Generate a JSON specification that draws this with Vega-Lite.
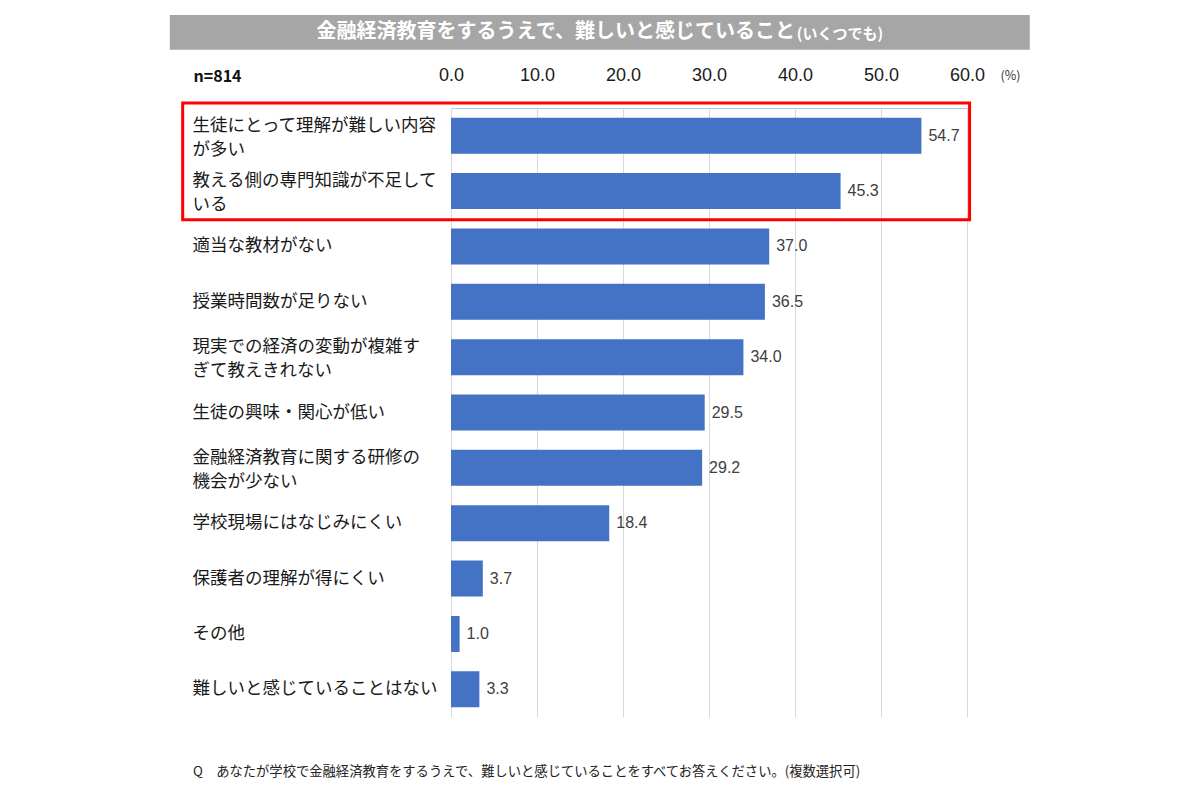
{
  "$schema": "https://vega.github.io/schema/vega-lite/v6.json",
  "autosize": "none",
  "width": 516,
  "height": 609,
  "padding": {"left": 451, "top": 108, "right": 233, "bottom": 83},
  "background": "white",
  "config": {"view": {"stroke": null}, "font": "Noto Sans CJK JP"},
  "title": {
    "text": "Q　あなたが学校で金融経済教育をするうえで、難しいと感じていることをすべてお答えください。(複数選択可)",
    "orient": "bottom",
    "anchor": "start",
    "frame": "group",
    "dx": -258,
    "offset": 48,
    "fontSize": 13.3,
    "fontWeight": "normal",
    "color": "#222222",
    "font": "Noto Sans CJK JP"
  },
  "datasets": {
    "main": [
      {"item": "生徒にとって理解が難しい内容\nが多い", "value": 54.7},
      {"item": "教える側の専門知識が不足して\nいる", "value": 45.3},
      {"item": "適当な教材がない", "value": 37.0},
      {"item": "授業時間数が足りない", "value": 36.5},
      {"item": "現実での経済の変動が複雑す\nぎて教えきれない", "value": 34.0},
      {"item": "生徒の興味・関心が低い", "value": 29.5},
      {"item": "金融経済教育に関する研修の\n機会が少ない", "value": 29.2},
      {"item": "学校現場にはなじみにくい", "value": 18.4},
      {"item": "保護者の理解が得にくい", "value": 3.7},
      {"item": "その他", "value": 1.0},
      {"item": "難しいと感じていることはない", "value": 3.3}
    ],
    "header": [
      {"title": "金融経済教育をするうえで、難しいと感じていること", "note": "(いくつでも)"}
    ]
  },
  "layer": [
    {
      "data": {"name": "main"},
      "encoding": {
        "y": {
          "field": "item",
          "type": "nominal",
          "sort": null,
          "scale": {"paddingInner": 0.35, "paddingOuter": 0.175},
          "axis": {
            "orient": "left",
            "title": "n=814",
            "titleAngle": 0,
            "titleX": -258,
            "titleY": -32,
            "titleAlign": "left",
            "titleBaseline": "middle",
            "titleFontSize": 16,
            "titleFontWeight": "bold",
            "titleColor": "#111111",
            "titleFont": "Noto Sans CJK JP",
            "labelAlign": "left",
            "labelBaseline": "middle",
            "labelPadding": 259,
            "labelLimit": 0,
            "labelFontSize": 17.5,
            "labelLineHeight": 24,
            "labelColor": "#1a1a1a",
            "labelFont": "Noto Sans CJK JP",
            "labelExpr": "split(datum.label, '\\n')",
            "labelOffset": {"condition": {"test": "indexof(datum.value, '\\n') >= 0", "value": -10}, "value": 0},
            "ticks": false,
            "tickSize": 0,
            "domain": false,
            "grid": false
          }
        },
        "x": {
          "field": "value",
          "type": "quantitative",
          "scale": {"domain": [0, 60], "nice": false, "zero": true},
          "axis": {
            "orient": "top",
            "values": [0, 10, 20, 30, 40, 50, 60],
            "format": ".1f",
            "title": "(%)",
            "titleX": 559,
            "titleY": -33,
            "titleAlign": "center",
            "titleBaseline": "middle",
            "titleFontSize": 12.5,
            "titleFontWeight": "normal",
            "titleColor": "#333333",
            "titleFont": "Noto Sans CJK JP",
            "labelFontSize": 18,
            "labelColor": "#1a1a1a",
            "labelFont": "Liberation Sans",
            "labelPadding": 24,
            "labelFlush": false,
            "labelOverlap": false,
            "ticks": false,
            "tickSize": 0,
            "domain": true,
            "domainColor": "#b4c7e7",
            "grid": true,
            "gridColor": "#d9d9d9",
            "gridWidth": 1
          }
        }
      },
      "layer": [
        {"mark": {"type": "bar", "color": "#4472c4"}},
        {
          "mark": {"type": "text", "align": "left", "baseline": "middle", "dx": 7, "fontSize": 16, "color": "#404040", "font": "Liberation Sans"},
          "encoding": {"text": {"field": "value", "type": "quantitative", "format": ".1f"}}
        }
      ]
    },
    {
      "data": {"name": "header"},
      "layer": [
        {
          "mark": {"type": "rect", "color": "#a6a6a6"},
          "encoding": {
            "x": {"datum": -32.7, "type": "quantitative", "scale": {"domain": [0, 60], "nice": false}},
            "x2": {"datum": 67.3},
            "y": {"datum": -1.68, "type": "quantitative", "scale": {"domain": [0, 11], "reverse": true, "nice": false, "zero": false}, "axis": null},
            "y2": {"datum": -1.05}
          }
        },
        {
          "mark": {"type": "text", "align": "right", "baseline": "middle", "fontSize": 20, "fontWeight": "bold", "color": "white", "font": "Noto Sans CJK JP"},
          "encoding": {
            "x": {"datum": 40.0, "type": "quantitative", "scale": {"domain": [0, 60], "nice": false}},
            "y": {"datum": -1.37, "type": "quantitative", "scale": {"domain": [0, 11], "reverse": true, "nice": false, "zero": false}, "axis": null},
            "text": {"field": "title"}
          }
        },
        {
          "mark": {"type": "text", "align": "left", "baseline": "middle", "dy": 2, "fontSize": 15, "fontWeight": "bold", "color": "white", "font": "Noto Sans CJK JP"},
          "encoding": {
            "x": {"datum": 40.2, "type": "quantitative", "scale": {"domain": [0, 60], "nice": false}},
            "y": {"datum": -1.37, "type": "quantitative", "scale": {"domain": [0, 11], "reverse": true, "nice": false, "zero": false}, "axis": null},
            "text": {"field": "note"}
          }
        },
        {
          "mark": {"type": "rect", "filled": false, "stroke": "#ff0000", "strokeWidth": 3},
          "encoding": {
            "x": {"datum": -31.2, "type": "quantitative", "scale": {"domain": [0, 60], "nice": false}},
            "x2": {"datum": 60.3},
            "y": {"datum": -0.09, "type": "quantitative", "scale": {"domain": [0, 11], "reverse": true, "nice": false, "zero": false}, "axis": null},
            "y2": {"datum": 2.02}
          }
        }
      ]
    }
  ],
  "resolve": {"scale": {"y": "independent"}, "axis": {"y": "independent"}}
}
